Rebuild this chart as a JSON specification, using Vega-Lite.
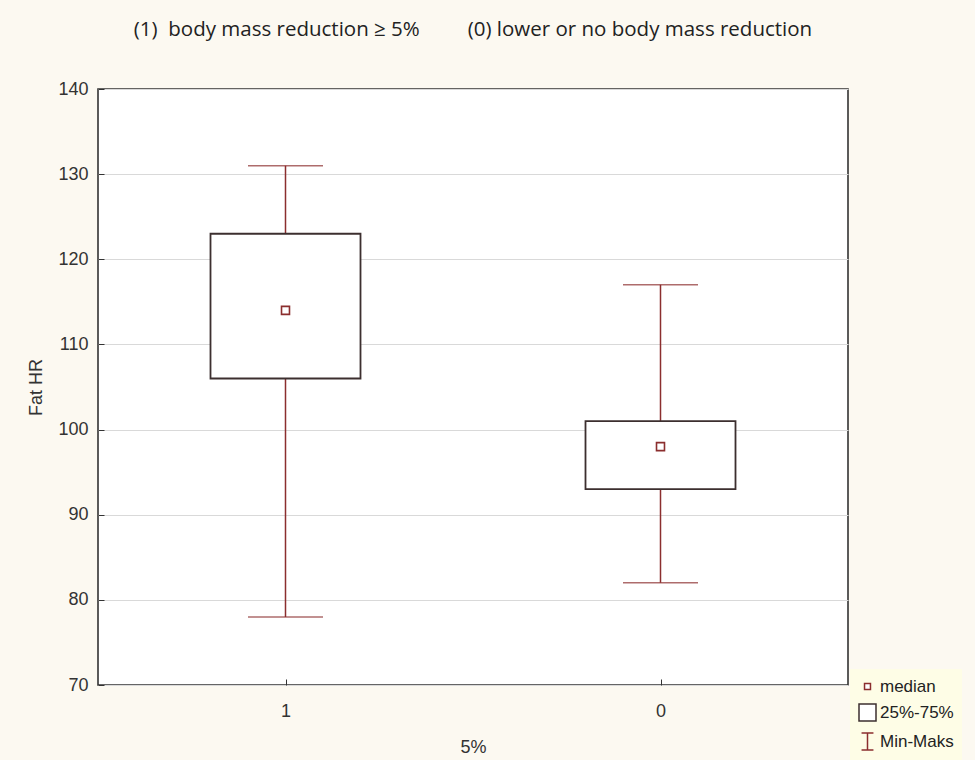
{
  "$schema": "https://vega.github.io/schema/vega-lite/v6.json",
  "autosize": "none",
  "width": 750,
  "height": 596,
  "padding": {"left": 98, "top": 89, "right": 127, "bottom": 75},
  "background": "#fcf9f1",
  "title": {
    "text": "(1)\u00a0 body mass reduction ≥ 5%\u00a0\u00a0\u00a0\u00a0\u00a0\u00a0\u00a0\u00a0\u00a0(0) lower or no body mass reduction",
    "font": "Open Sans",
    "fontSize": 20.5,
    "fontWeight": "normal",
    "color": "#222",
    "anchor": "middle",
    "offset": 40
  },
  "data": {
    "values": [
      {"g": "1", "min": 78, "q1": 106, "median": 114, "q3": 123, "max": 131, "item": "median"},
      {"g": "0", "min": 82, "q1": 93, "median": 98, "q3": 101, "max": 117, "item": "median"}
    ]
  },
  "encoding": {
    "x": {
      "field": "g", "type": "nominal", "sort": ["1", "0"], "title": "5%",
      "scale": {"type": "point", "padding": 0.5},
      "axis": {"labelAngle": 0, "grid": false, "tickSize": -6, "labelPadding": 23, "titlePadding": 18}
    }
  },
  "layer": [
    {
      "mark": {"type": "rule", "color": "#8b2e2e", "strokeWidth": 1.5},
      "encoding": {
        "y": {"field": "min", "type": "quantitative", "title": "Fat HR",
          "scale": {"domain": [70, 140], "nice": false, "zero": false},
          "axis": {"values": [70, 80, 90, 100, 110, 120, 130, 140], "grid": true, "tickSize": -6, "labelPadding": 16, "titlePadding": 12}},
        "y2": {"field": "max"}
      }
    },
    {
      "mark": {"type": "bar", "size": 150, "fill": "white", "stroke": "#3c2f2f", "strokeWidth": 1.8},
      "encoding": {
        "y": {"field": "q1", "type": "quantitative", "title": "Fat HR"},
        "y2": {"field": "q3"}
      }
    },
    {
      "mark": {"type": "tick", "orient": "horizontal", "size": 75, "thickness": 1.5, "color": "#8b2e2e"},
      "encoding": {"y": {"field": "min", "type": "quantitative", "title": "Fat HR"}}
    },
    {
      "mark": {"type": "tick", "orient": "horizontal", "size": 75, "thickness": 1.5, "color": "#8b2e2e"},
      "encoding": {"y": {"field": "max", "type": "quantitative", "title": "Fat HR"}}
    },
    {
      "mark": {"type": "point", "filled": false, "size": 520, "strokeWidth": 1.6, "fill": "white", "opacity": 1},
      "encoding": {
        "y": {"field": "median", "type": "quantitative", "title": "Fat HR"},
        "shape": {
          "field": "item", "type": "nominal",
          "scale": {"domain": ["median", "25%-75%", "Min-Maks"],
            "range": ["M-0.35,-0.35H0.35V0.35H-0.35Z", "M-1,-1H1V1H-1Z", "M-0.7,-1H0.7M0,-1V1M-0.7,1H0.7"]},
          "legend": {
            "title": null, "orient": "none", "legendX": 752, "legendY": 580,
            "fillColor": "#fefde6", "padding": 8, "symbolSize": 289, "symbolStrokeWidth": 1.5,
            "symbolFillColor": "white", "labelFont": "Liberation Sans", "labelFontSize": 17,
            "labelColor": "#222", "rowPadding": 6, "symbolOpacity": 1, "labelOffset": 3
          }
        },
        "color": {
          "field": "item", "type": "nominal",
          "scale": {"domain": ["median", "25%-75%", "Min-Maks"], "range": ["#8b2e2e", "#3c2f2f", "#8b2e2e"]},
          "legend": {
            "title": null, "orient": "none", "legendX": 752, "legendY": 580,
            "fillColor": "#fefde6", "padding": 8, "symbolSize": 289, "symbolStrokeWidth": 1.5,
            "symbolFillColor": "white", "labelFont": "Liberation Sans", "labelFontSize": 17,
            "labelColor": "#222", "rowPadding": 6, "symbolOpacity": 1, "labelOffset": 3
          }
        }
      }
    }
  ],
  "config": {
    "view": {"stroke": "#333333", "strokeWidth": 1.6, "fill": "white"},
    "axis": {
      "labelFont": "Liberation Sans", "labelFontSize": 18, "labelColor": "#333",
      "titleFont": "Liberation Sans", "titleFontSize": 18, "titleFontWeight": "normal", "titleColor": "#333",
      "domain": false, "tickColor": "#333333", "tickWidth": 1, "gridColor": "#d9d9d9", "gridWidth": 1
    }
  }
}
